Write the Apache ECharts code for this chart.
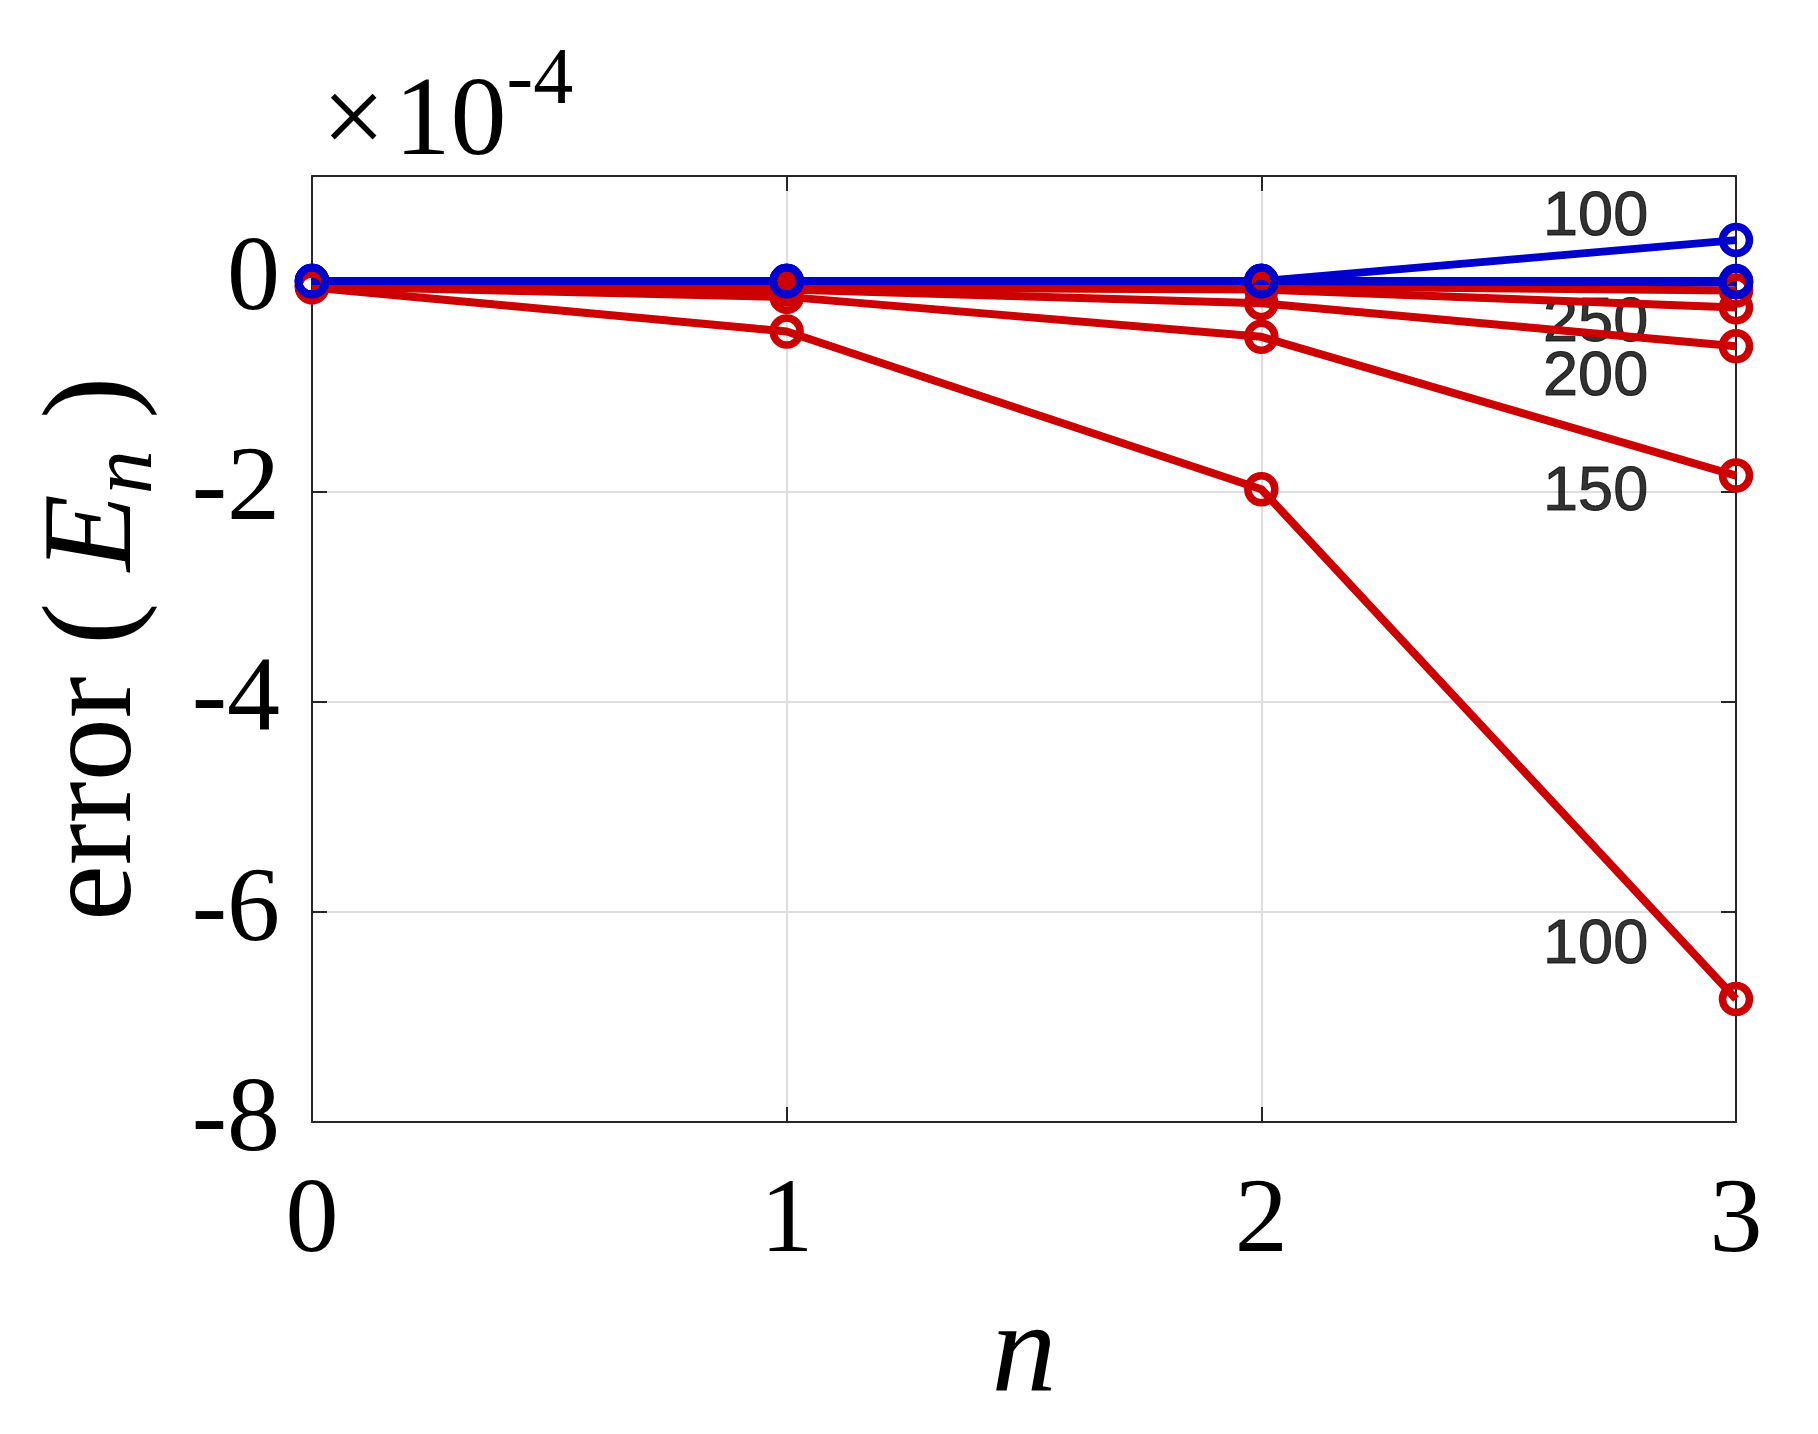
<!DOCTYPE html>
<html>
<head>
<meta charset="utf-8">
<script src="https://cdn.jsdelivr.net/npm/echarts@6/dist/echarts.min.js"></script>
<style>
html,body{margin:0;padding:0;background:#fff;}
#chart{width:1818px;height:1434px;}
</style>
</head>
<body>
<div id="chart"></div>
<script>
// x positions (n)
var nValues = [0, 1, 2, 3];
// y values in units of 1e-4
var red100 = [-0.06, -0.48, -1.98, -6.83];
var red150 = [-0.05, -0.15, -0.53, -1.85];
var red200 = [-0.05, -0.08, -0.21, -0.62];
var red250 = [-0.04, -0.06, -0.08, -0.25];
var red300 = [-0.03, -0.04, -0.05, -0.09];
var blue100 = [0, 0, 0, 0.39];
var blue150 = [0, 0, 0, 0.0];
var blue200 = [0, 0, 0, -0.01];
var blue250 = [0, 0, 0, -0.01];
// annotations
var annotText = ['100', '250', '200', '150', '100'];
var annotX = [2.815, 2.815, 2.815, 2.815, 2.815];
var annotY = [0.6, -0.40, -0.92, -2.01, -6.32];
var yTicks = [-8, -6, -4, -2, 0];

var RED = '#cc0000', BLUE = '#0000cc';
var SERIF = 'Liberation Serif', SANS = 'Liberation Sans';

function pairs(ys) { return nValues.map(function (x, i) { return [x, ys[i]]; }); }
function lineSeries(ys, color) {
  return {
    type: 'line', data: pairs(ys), symbol: 'circle', symbolSize: 27,
    lineStyle: { color: color, width: 8 },
    itemStyle: { color: 'rgba(0,0,0,0)', borderColor: color, borderWidth: 7.5 },
    silent: true, animation: false
  };
}

var chart = echarts.init(document.getElementById('chart'));
var axisLine = { show: true, onZero: false, lineStyle: { color: '#262626', width: 2 } };
var tick = { show: true, inside: true, length: 15, lineStyle: { color: '#262626', width: 2 } };
var split = { show: true, lineStyle: { color: '#dedede', width: 2 } };

chart.setOption({
  backgroundColor: '#fff',
  animation: false,
  title: {
    text: '{a|×\u200a10}{b|-4}', left: 322, top: 42, padding: 0,
    textStyle: {
      fontWeight: 'normal',
      rich: {
        a: { fontFamily: SERIF, fontWeight: 'normal', fontSize: 112, lineHeight: 166, color: '#000' },
        b: { fontFamily: SERIF, fontWeight: 'normal', fontSize: 80, lineHeight: 78, verticalAlign: 'top', color: '#000' }
      }
    }
  },
  grid: { left: 312, right: 82, top: 176, bottom: 312 },
  xAxis: [{
    type: 'value', min: 0, max: 3, interval: 1, position: 'bottom',
    name: 'n', nameLocation: 'middle', nameGap: 170,
    nameTextStyle: { fontFamily: SERIF, fontStyle: 'italic', fontSize: 130, color: '#000' },
    axisLine: axisLine, axisTick: tick, splitLine: split,
    axisLabel: { fontFamily: SERIF, fontSize: 106, color: '#000', margin: 48 }
  }, {
    type: 'value', min: 0, max: 3, interval: 1, position: 'top',
    axisLine: axisLine, axisTick: tick, splitLine: { show: false }, axisLabel: { show: false }
  }],
  yAxis: [{
    type: 'value', min: -8, max: 1, interval: 2, position: 'left',
    name: '{a|error ( }{e|E}{s|n}{a| )}', nameLocation: 'middle', nameGap: 140, nameRotate: 90,
    nameTextStyle: {
      rich: {
        a: { fontFamily: SERIF, fontSize: 126, lineHeight: 150, color: '#000' },
        e: { fontFamily: SERIF, fontStyle: 'italic', fontSize: 126, lineHeight: 150, color: '#000' },
        s: { fontFamily: SERIF, fontStyle: 'italic', fontSize: 88, lineHeight: 90, verticalAlign: 'bottom', color: '#000' }
      }
    },
    axisLine: axisLine, axisTick: tick, splitLine: split,
    axisLabel: {
      fontFamily: SERIF, fontSize: 106, color: '#000', margin: 32,
      formatter: function (v) { return yTicks.indexOf(v) >= 0 ? String(v) : ''; }
    }
  }, {
    type: 'value', min: -8, max: 1, interval: 2, position: 'right',
    axisLine: axisLine, axisTick: tick, splitLine: { show: false }, axisLabel: { show: false }
  }],
  series: [
    lineSeries(red300, RED),
    lineSeries(red250, RED),
    lineSeries(red200, RED),
    lineSeries(red150, RED),
    lineSeries(red100, RED),
    lineSeries(blue250, BLUE),
    lineSeries(blue200, BLUE),
    lineSeries(blue150, BLUE),
    lineSeries(blue100, BLUE),
    {
      type: 'scatter', symbolSize: 0, silent: true,
      data: annotX.map(function (x, i) { return { value: [x, annotY[i]], name: annotText[i] }; }),
      label: {
        show: true, position: 'left', distance: 0,
        formatter: function (p) { return p.name; },
        fontFamily: SANS, fontSize: 63, color: '#000',
        textBorderColor: '#000', textBorderWidth: 1
      }
    }
  ]
});
</script>
</body>
</html>
